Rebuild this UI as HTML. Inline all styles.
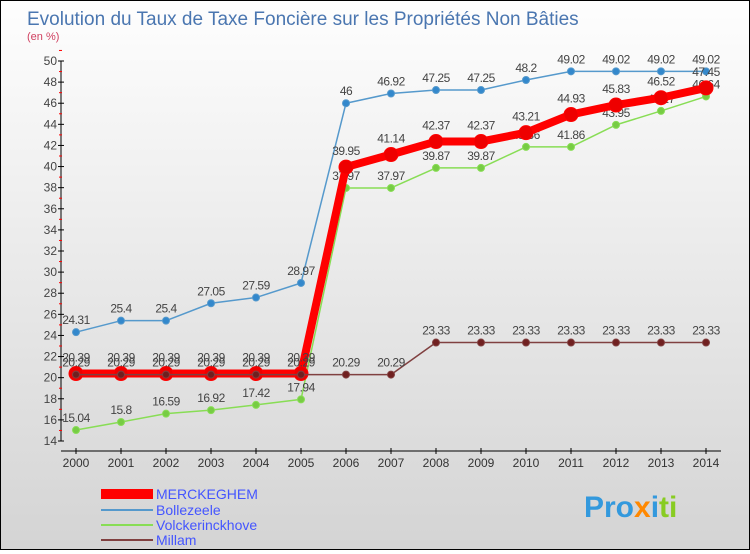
<!DOCTYPE html>
<html><head><meta charset="utf-8">
<style>
html,body{margin:0;padding:0}
body{width:750px;height:550px;overflow:hidden;font-family:"Liberation Sans",sans-serif}
#wrap{position:relative;width:748px;height:548px;border:1px solid #000;background:linear-gradient(#fefefe,#d4d4d4)}
</style></head><body>
<div id="wrap">
<svg id="svg" width="748" height="548" font-family="Liberation Sans, sans-serif">
<text x="26" y="24" font-size="19" fill="#4a76b0">Evolution du Taux de Taxe Foncière sur les Propriétés Non Bâties</text>
<text x="26" y="39" font-size="11" fill="#d04060">(en %)</text>
<g id="axes"></g><g id="series"></g>
<g>
<rect x="100" y="488" width="52" height="10" fill="#ff0000"/>
<text x="155" y="498" font-size="14" fill="#4455ff">MERCKEGHEM</text>
<line x1="100" y1="509" x2="152" y2="509" stroke="#5599cc" stroke-width="2"/>
<text x="155" y="514" font-size="14" fill="#4455ff">Bollezeele</text>
<line x1="100" y1="524" x2="152" y2="524" stroke="#88dd55" stroke-width="2"/>
<text x="155" y="529" font-size="14" fill="#4455ff">Volckerinckhove</text>
<line x1="100" y1="539" x2="152" y2="539" stroke="#804040" stroke-width="2"/>
<text x="155" y="544" font-size="14" fill="#4455ff">Millam</text>
</g>
<text x="583" y="516" font-size="30" font-weight="bold"><tspan fill="#3399dd">Pro</tspan><tspan fill="#ff8800">x</tspan><tspan fill="#3399dd">i</tspan><tspan fill="#88cc22">ti</tspan></text>
</svg></div>
<script>
const years=[2000,2001,2002,2003,2004,2005,2006,2007,2008,2009,2010,2011,2012,2013,2014];
const merckeghem=[20.39,20.39,20.39,20.39,20.39,20.39,39.95,41.14,42.37,42.37,43.21,44.93,45.83,46.52,47.45];
const bollezeele=[24.31,25.4,25.4,27.05,27.59,28.97,46,46.92,47.25,47.25,48.2,49.02,49.02,49.02,49.02];
const volckerinckhove=[15.04,15.8,16.59,16.92,17.42,17.94,37.97,37.97,39.87,39.87,41.86,41.86,43.95,45.27,46.64];
const millam=[20.29,20.29,20.29,20.29,20.29,20.29,20.29,20.29,23.33,23.33,23.33,23.33,23.33,23.33,23.33];
const yTicks=[14,16,18,20,22,24,26,28,30,32,34,36,38,40,42,44,46,48,50];
const NS="http://www.w3.org/2000/svg";
const x=i=>75+i*45;
const y=v=>440-(v-14)*(380/36);
function mk(t,a,p){const e=document.createElementNS(NS,t);for(const k in a)e.setAttribute(k,a[k]);p.appendChild(e);return e;}
const ax=document.getElementById('axes');
let yl=mk('line',{x1:60,y1:y(50),x2:60,y2:440,stroke:'#000'},ax);


let xl=mk('line',{x1:60,y1:450,x2:720,y2:450,stroke:'#000'},ax);


yTicks.forEach(v=>{
 mk('line',{x1:57,y1:y(v),x2:63,y2:y(v),stroke:'#000'},ax);
 mk('line',{x1:58,y1:y(v+1),x2:61,y2:y(v+1),stroke:'#f00'},ax);
 const t=mk('text',{x:56,y:y(v)+4,'font-size':12,'text-anchor':'end',fill:'#444'},ax);t.textContent=v;
 
 
});
years.forEach((yr,i)=>{
 mk('line',{x1:x(i),y1:447,x2:x(i),y2:453,stroke:'#000'},ax);
 const t=mk('text',{x:x(i),y:466,'font-size':12,'text-anchor':'middle',fill:'#333'},ax);t.textContent=yr;
 
 
});
const sg=document.getElementById('series');
function series(data,name,color,w,r,dot,labOff){
 const g=mk('g',{},sg);
 
 
 mk('polyline',{points:data.map((v,i)=>x(i)+','+y(v)).join(' '),fill:'none',stroke:color,'stroke-width':w,'stroke-linejoin':'round'},g);
 data.forEach((v,i)=>{
  const c=mk('circle',{cx:x(i),cy:y(v),r:r,fill:dot,stroke:color,'stroke-width':1},g);
  
  
  const t=mk('text',{x:x(i),y:y(v)-labOff,'font-size':12,'text-anchor':'middle',fill:'#444','letter-spacing':'-0.5'},g);
  t.textContent=v;
  
  
 });
}
series(volckerinckhove,'volckerinckhove','#88dd55',1.5,3.5,'#77cc44',8);
series(bollezeele,'bollezeele','#5599cc',1.5,3.5,'#3388cc',8);
series(merckeghem,'merckeghem','#ff0000',8,7,'#ee0000',12);
series(millam,'millam','#804040',1.5,3.5,'#702020',8);
</script>
</body></html>
